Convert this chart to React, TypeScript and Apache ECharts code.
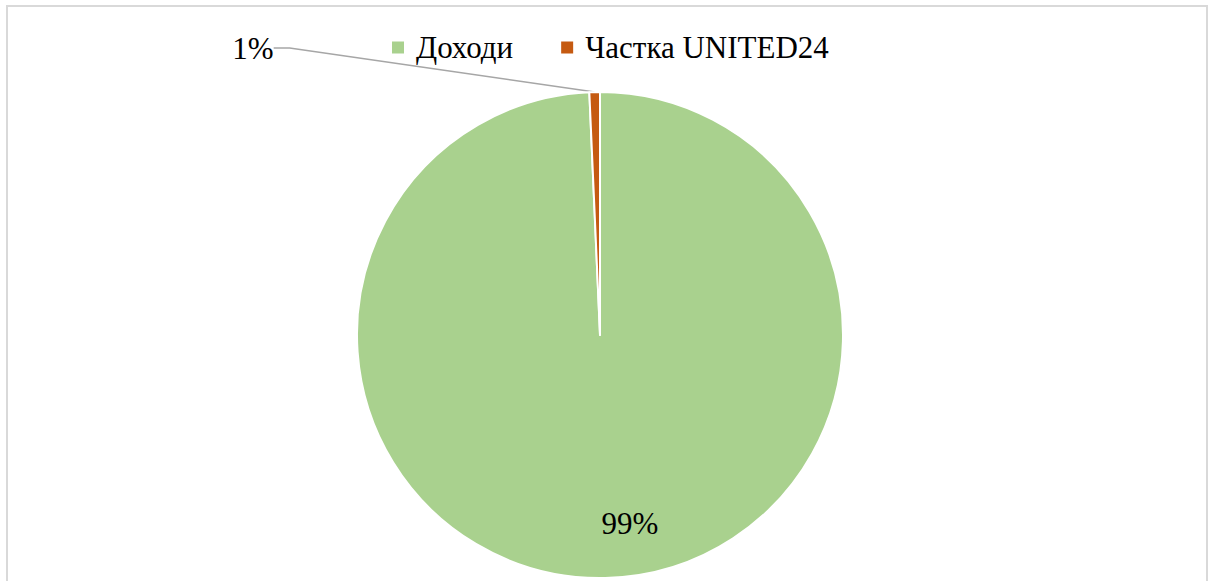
import React, { useEffect, useRef } from "react";
import * as echarts from "echarts";

const categories = ["Доходи", "Частка UNITED24"];
const values = [99.3, 0.7];
const colors = ["#a9d18e", "#c55a11"];

export default function App() {
  const ref = useRef<HTMLDivElement>(null);
  useEffect(() => {
    if (!ref.current) return;
    const chart = echarts.init(ref.current, null, { renderer: "svg" });
    const total = values.reduce((a, b) => a + b, 0);
    const font = "Liberation Serif, DejaVu Serif, serif";
    chart.setOption({
      animation: false,
      textStyle: { fontFamily: font },
      graphic: [
        {
          type: "rect",
          shape: { x: 7, y: 6, width: 1200, height: 620 },
          style: { fill: "none", stroke: "#d9d9d9", lineWidth: 2 },
          silent: true,
        },
      ],
      legend: {
        left: 390,
        top: 32,
        padding: 0,
        icon: "rect",
        itemWidth: 14,
        itemHeight: 14,
        itemGap: 46,
        textStyle: { fontFamily: font, fontSize: 31, color: "#000", padding: [0, 0, 0, 6] },
        data: categories,
      },
      series: [
        {
          type: "pie",
          center: [600, 335],
          radius: 243,
          startAngle: 90,
          clockwise: true,
          avoidLabelOverlap: false,
          itemStyle: { borderColor: "#fff", borderWidth: 2 },
          data: categories.map((c, i) => ({
            name: c,
            value: values[i],
            itemStyle: { color: colors[i] },
            label:
              i === 0
                ? { show: true, position: "inside" }
                : { show: true, position: "outside" },
            labelLine: i === 0 ? { show: false } : { show: true, length: 20, length2: 16, lineStyle: { color: "#a6a6a6", width: 1.5 } },
          })),
          label: {
            fontFamily: font,
            fontSize: 31,
            color: "#000",
            formatter: (p: any) => Math.round((p.value / total) * 100) + "%",
          },
          labelLayout: (p: any) =>
            p.dataIndex === 0
              ? { x: 630, y: 523, align: "center", verticalAlign: "middle" }
              : { x: 253, y: 48, align: "center", verticalAlign: "middle" },
        },
      ],
    });
    return () => chart.dispose();
  }, []);
  return (
    <div
      ref={ref}
      style={{ position: "fixed", left: 0, top: 0, width: 1214, height: 581, background: "#fff" }}
    />
  );
}
